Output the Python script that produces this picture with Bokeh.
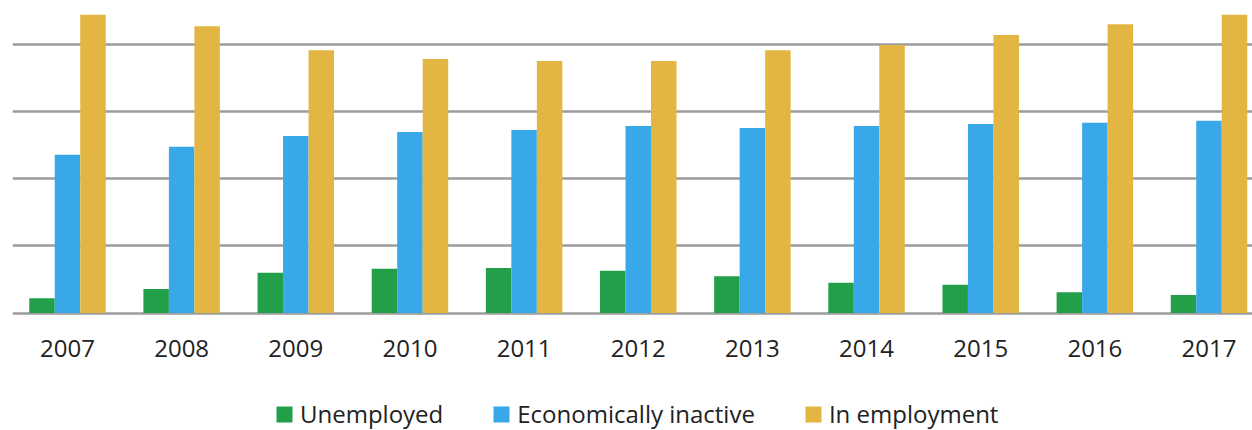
from bokeh.plotting import figure
from bokeh.layouts import column
from bokeh.models import ColumnDataSource, Range1d, FixedTicker, Legend, LegendItem
from bokeh.transform import dodge
from bokeh.embed import file_html
from bokeh.resources import INLINE

years = ["2007", "2008", "2009", "2010", "2011", "2012", "2013", "2014", "2015", "2016", "2017"]
unemployed = [22, 36, 60, 66, 67, 63, 55, 45, 42, 31, 27]
inactive = [236, 248, 264, 270, 273, 279, 276, 279, 282, 284, 287]
in_employment = [445, 428, 392, 379, 376, 376, 392, 400, 415, 431, 445]
grid_values = [0, 100, 200, 300, 400]

series = ["Unemployed", "Economically inactive", "In employment"]
colors = ["#239F4A", "#38A8E8", "#E3B643"]

idx = list(range(len(years)))
src = ColumnDataSource(dict(x=idx, unemployed=unemployed, inactive=inactive, emp=in_employment))
cols = ["unemployed", "inactive", "emp"]
w = 0.2234

# main chart
p = figure(width=1252, height=395, output_backend="svg", toolbar_location=None,
           x_range=Range1d(-0.4818, 10.381), y_range=Range1d(-3.73, 466.4),
           y_axis_location=None, min_border_left=12, min_border_right=0,
           min_border_top=0, min_border_bottom=80)
p.outline_line_color = None
p.background_fill_color = "white"
p.border_fill_color = "white"

for k, off in enumerate([-w, 0, w]):
    p.vbar(x=dodge("x", off, range=p.x_range), top=cols[k], bottom=0, width=w, source=src,
           fill_color=colors[k], line_color=None)

p.xgrid.visible = False
p.ygrid.ticker = FixedTicker(ticks=grid_values)
p.ygrid.grid_line_color = "#9c9c9c"
p.ygrid.grid_line_width = 2.5

ax = p.xaxis[0]
ax.ticker = FixedTicker(ticks=idx)
ax.major_label_overrides = {i: y for i, y in enumerate(years)}
ax.axis_line_color = None
ax.major_tick_line_color = None
ax.minor_tick_line_color = None
ax.major_label_standoff = 18
ax.major_label_text_font = "Open Sans"
ax.major_label_text_font_size = "24px"
ax.major_label_text_color = "#222222"

# legend strip: same series, whose bars lie below this strip's y range, so only the legend shows
p2 = figure(width=1252, height=35, output_backend="svg", toolbar_location=None,
            x_range=Range1d(-0.4818, 10.381), y_range=Range1d(1000, 2000),
            x_axis_location=None, y_axis_location=None,
            min_border_left=0, min_border_right=0, min_border_top=0, min_border_bottom=0)
p2.outline_line_color = None
p2.xgrid.visible = False
p2.ygrid.visible = False
p2.border_fill_color = "white"
p2.background_fill_color = "white"

items = []
for k, name in enumerate(series):
    r = p2.vbar(x="x", top=cols[k], bottom=0, width=w, source=src,
                fill_color=colors[k], line_color=None)
    items.append(LegendItem(label=name, renderers=[r]))

legend = Legend(items=items, orientation="horizontal", location=(262, 0),
                glyph_width=20, glyph_height=20, label_standoff=6, spacing=48,
                padding=0, margin=0, border_line_color=None, background_fill_alpha=0,
                label_text_font="Open Sans", label_text_font_size="24px",
                label_text_color="#222222")
p2.add_layout(legend, "center")

layout = column(p, p2, spacing=0)
open("out.html", "w").write(file_html(layout, INLINE))
